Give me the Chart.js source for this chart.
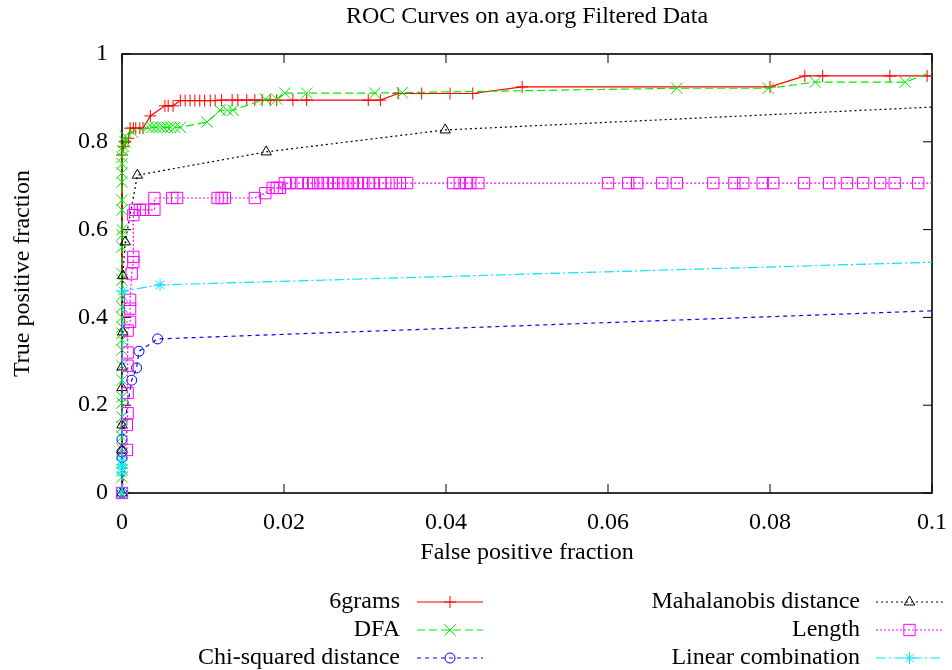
<!DOCTYPE html>
<html>
<head>
<meta charset="utf-8">
<title>ROC Curves on aya.org Filtered Data</title>
<script src="https://cdn.jsdelivr.net/npm/chart.js"></script>
<style>
  html, body { margin: 0; padding: 0; background: #fff; }
  #roc { display: block; }
</style>
</head>
<body>
<canvas id="roc" width="952" height="670"></canvas>
<script>
const chartTitle = 'ROC Curves on aya.org Filtered Data';

// tick values for the two axes
const xTicks = [0, 0.02, 0.04, 0.06, 0.08, 0.1];
const yTicks = [0, 0.2, 0.4, 0.6, 0.8, 1];

const seriesNames = ['6grams', 'DFA', 'Chi-squared distance', 'Mahalanobis distance', 'Length', 'Linear combination'];

// 6grams
const sixgramsFpr = [0, 0, 0.0002, 0.0004, 0.0008, 0.001, 0.0014, 0.0017, 0.0022, 0.0026, 0.0035, 0.0053, 0.0057, 0.0063,
  0.0072, 0.0078, 0.0084, 0.009, 0.0096, 0.0102, 0.0109, 0.0115, 0.0123, 0.0136, 0.0143, 0.0154, 0.0164, 0.0173, 0.0183,
  0.0191, 0.0211, 0.0228, 0.0304, 0.0319, 0.0341, 0.037, 0.0405, 0.0433, 0.0494, 0.08, 0.0843, 0.0865, 0.0948, 0.0994, 0.11];
const sixgramsTpr = [0, 0.77, 0.789, 0.8, 0.808, 0.831, 0.831, 0.831, 0.831, 0.831, 0.859, 0.882, 0.882, 0.882,
  0.894, 0.894, 0.894, 0.894, 0.894, 0.894, 0.894, 0.894, 0.895, 0.895, 0.895, 0.895, 0.895, 0.895, 0.895,
  0.895, 0.895, 0.895, 0.895, 0.895, 0.91, 0.91, 0.91, 0.91, 0.925, 0.925, 0.95, 0.95, 0.95, 0.95, 0.95];

// DFA
const dfaFpr = [0, 0, 0, 0, 0, 0, 0, 0, 0, 0, 0, 0, 0, 0, 0, 0, 0, 0, 0, 0, 0, 0, 0, 0, 0, 0, 0, 0, 0, 0,
  0.0001, 0.0002, 0.0004, 0.0004, 0.0013, 0.0032, 0.0037, 0.0042, 0.0047, 0.0051, 0.0056, 0.006, 0.0065, 0.0072,
  0.0105, 0.0121, 0.013, 0.0137, 0.0177, 0.0191, 0.0201, 0.0228, 0.0312, 0.0346, 0.0685, 0.0798, 0.0856, 0.0967, 0.1008];
const dfaTpr = [0, 0.036, 0.052, 0.068, 0.1, 0.128, 0.15, 0.173, 0.205, 0.219, 0.257, 0.29, 0.326, 0.349, 0.364, 0.378,
  0.4, 0.424, 0.45, 0.485, 0.5, 0.56, 0.588, 0.6, 0.645, 0.667, 0.708, 0.729, 0.75, 0.765,
  0.78, 0.79, 0.8, 0.813, 0.822, 0.833, 0.833, 0.833, 0.833, 0.833, 0.833, 0.833, 0.833, 0.833,
  0.845, 0.872, 0.872, 0.872, 0.897, 0.897, 0.911, 0.911, 0.911, 0.912, 0.922, 0.922, 0.936, 0.936, 0.965];

// Chi-squared distance
const chiFpr = [0, 0, 0, 0, 0.0012, 0.0018, 0.0021, 0.0044, 0.2];
const chiTpr = [0, 0.08, 0.094, 0.122, 0.257, 0.285, 0.323, 0.351, 0.482];

// Mahalanobis distance
const mahaFpr = [0, 0, 0, 0, 0, 0.0001, 0.0001, 0.0004, 0.0019, 0.0178, 0.0399, 0.2];
const mahaTpr = [0, 0.098, 0.155, 0.24, 0.287, 0.367, 0.495, 0.572, 0.724, 0.777, 0.827, 0.966];

// Length
const lengthFpr = [0, 0.0006, 0.0006, 0.0007, 0.0007, 0.0007, 0.0007, 0.0007, 0.001, 0.001, 0.001, 0.0012, 0.0014, 0.0014,
  0.0014, 0.0016, 0.0022, 0.0026, 0.004, 0.004, 0.0062, 0.0068, 0.0118, 0.0123, 0.0127, 0.0164, 0.0177, 0.0186, 0.0191,
  0.0195, 0.0201, 0.0207, 0.0216, 0.0223, 0.0231, 0.0236, 0.0242, 0.0248, 0.0254, 0.0261, 0.0267, 0.0273, 0.0279, 0.0285,
  0.0291, 0.0298, 0.0304, 0.031, 0.0319, 0.0325, 0.0333, 0.0343, 0.0352, 0.0409, 0.0417, 0.0425, 0.043, 0.044, 0.06,
  0.0625, 0.0636, 0.0667, 0.0685, 0.073, 0.0756, 0.0767, 0.0791, 0.0804, 0.0842, 0.0873, 0.0895, 0.0915, 0.0936, 0.0954,
  0.0983, 0.2];
const lengthTpr = [0, 0.098, 0.155, 0.182, 0.228, 0.29, 0.32, 0.37, 0.39, 0.42, 0.44, 0.5, 0.526, 0.538,
  0.633, 0.645, 0.645, 0.645, 0.645, 0.672, 0.672, 0.672, 0.672, 0.672, 0.672, 0.672, 0.683, 0.695, 0.695,
  0.695, 0.706, 0.706, 0.706, 0.706, 0.706, 0.706, 0.706, 0.706, 0.706, 0.706, 0.706, 0.706, 0.706, 0.706,
  0.706, 0.706, 0.706, 0.706, 0.706, 0.706, 0.706, 0.706, 0.706, 0.706, 0.706, 0.706, 0.706, 0.706, 0.706,
  0.706, 0.706, 0.706, 0.706, 0.706, 0.706, 0.706, 0.706, 0.706, 0.706, 0.706, 0.706, 0.706, 0.706, 0.706,
  0.706, 0.706];

// Linear combination
const linearFpr = [0, 0, 0, 0, 0, 0.0001, 0.0047, 0.2];
const linearTpr = [0, 0.046, 0.057, 0.064, 0.075, 0.46, 0.474, 0.58];

const toPoints = (xs, ys) => xs.map((v, i) => ({x: v, y: ys[i]}));

const styles = [
  {color: '#ff0000', dash: [], pointStyle: 'cross', radius: 6},
  {color: '#00ee00', dash: [8, 4], pointStyle: 'crossRot', radius: 8},
  {color: '#0000ff', dash: [4, 4], pointStyle: 'circle', radius: 5},
  {color: '#000000', dash: [2, 3], pointStyle: 'triangle', radius: 6},
  {color: '#ff00ff', dash: [2, 2], pointStyle: 'rect', radius: 8},
  {color: '#00e5ff', dash: [10, 3, 2, 3], pointStyle: 'star', radius: 6}
];

const seriesData = [
  toPoints(sixgramsFpr, sixgramsTpr),
  toPoints(dfaFpr, dfaTpr),
  toPoints(chiFpr, chiTpr),
  toPoints(mahaFpr, mahaTpr),
  toPoints(lengthFpr, lengthTpr),
  toPoints(linearFpr, linearTpr)
];

const datasets = seriesNames.map((name, i) => ({
  label: name,
  data: seriesData[i],
  showLine: true,
  borderColor: styles[i].color,
  backgroundColor: 'rgba(0,0,0,0)',
  borderWidth: 1.2,
  borderDash: styles[i].dash,
  pointStyle: styles[i].pointStyle,
  pointRadius: styles[i].radius,
  pointBorderWidth: 1,
  pointBorderColor: styles[i].color,
  pointBackgroundColor: 'rgba(0,0,0,0)',
  tension: 0,
  order: seriesNames.length - i,
  clip: {left: 12, top: 12, right: 0, bottom: 12}
}));

const fmt = v => String(+Number(v).toFixed(3));

// gnuplot style frame: border box with inward ticks on all four sides
const framePlugin = {
  id: 'frame',
  beforeDatasetsDraw(chart) {
    const {ctx, chartArea: a, scales: {x, y}} = chart;
    ctx.save();
    ctx.strokeStyle = '#000';
    ctx.setLineDash([]);
    ctx.lineWidth = 1;
    ctx.beginPath();
    x.ticks.forEach(t => {
      const px = x.getPixelForValue(t.value);
      ctx.moveTo(px, a.bottom); ctx.lineTo(px, a.bottom - 9);
      ctx.moveTo(px, a.top); ctx.lineTo(px, a.top + 9);
    });
    y.ticks.forEach(t => {
      const py = y.getPixelForValue(t.value);
      ctx.moveTo(a.left, py); ctx.lineTo(a.left + 9, py);
      ctx.moveTo(a.right, py); ctx.lineTo(a.right - 9, py);
    });
    ctx.stroke();
    ctx.lineWidth = 1.6;
    ctx.strokeRect(a.left, a.top, a.right - a.left, a.bottom - a.top);
    ctx.restore();
  }
};

// title centred over the plot, and a two-column legend under it
const legendPlugin = {
  id: 'gpLegend',
  afterDraw(chart) {
    const ctx = chart.ctx;
    const a = chart.chartArea;
    ctx.save();
    ctx.font = '24px "Liberation Serif", serif';
    ctx.fillStyle = '#000';
    ctx.textAlign = 'center';
    ctx.textBaseline = 'middle';
    ctx.fillText(chartTitle, (a.left + a.right) / 2, 17);

    const cols = [{textRight: 400, x0: 417, x1: 483}, {textRight: 860, x0: 876, x1: 943}];
    ctx.textAlign = 'right';
    chart.data.datasets.forEach((ds, i) => {
      const c = cols[i < 3 ? 0 : 1];
      const yy = 602 + (i % 3) * 28;
      ctx.fillStyle = '#000';
      ctx.fillText(ds.label, c.textRight, yy);
      ctx.strokeStyle = ds.borderColor;
      ctx.lineWidth = ds.borderWidth;
      ctx.setLineDash(ds.borderDash);
      ctx.beginPath();
      ctx.moveTo(c.x0, yy);
      ctx.lineTo(c.x1, yy);
      ctx.stroke();
      ctx.setLineDash([]);
      ctx.lineWidth = 1;
      ctx.fillStyle = 'rgba(0,0,0,0)';
      Chart.helpers.drawPoint(ctx, {
        pointStyle: ds.pointStyle, rotation: 0, radius: ds.pointRadius, borderWidth: 1
      }, (c.x0 + c.x1) / 2, yy);
    });
    ctx.restore();
  }
};

Chart.defaults.font.family = '"Liberation Serif", serif';
Chart.defaults.font.size = 24;
Chart.defaults.color = '#000';

new Chart(document.getElementById('roc'), {
  type: 'scatter',
  data: {datasets: datasets},
  options: {
    responsive: false,
    animation: false,
    layout: {padding: {left: 0, right: 20, top: 54, bottom: 97}},
    plugins: {
      legend: {display: false},
      tooltip: {enabled: false},
      title: {display: false}
    },
    scales: {
      x: {
        type: 'linear',
        min: 0,
        max: 0.1,
        afterFit: s => { s.height = 80; s.paddingLeft = 0; s.paddingRight = 0; },
        afterBuildTicks: s => { s.ticks = xTicks.map(v => ({value: v})); },
        ticks: {padding: 15, color: '#000', font: {size: 24}, callback: v => fmt(v)},
        grid: {display: false, drawTicks: false},
        border: {display: false},
        title: {display: true, text: 'False positive fraction', font: {size: 24}, color: '#000', padding: {top: 0, bottom: 6}}
      },
      y: {
        type: 'linear',
        min: 0,
        max: 1,
        afterFit: s => { s.width = 122; s.paddingTop = 0; s.paddingBottom = 0; },
        afterBuildTicks: s => { s.ticks = yTicks.map(v => ({value: v})); },
        ticks: {padding: 14, color: '#000', font: {size: 24}, callback: v => fmt(v)},
        grid: {display: false, drawTicks: false},
        border: {display: false},
        title: {display: true, text: 'True positive fraction', font: {size: 24}, color: '#000', padding: {top: 8, bottom: 0}}
      }
    }
  },
  plugins: [framePlugin, legendPlugin]
});
</script>
</body>
</html>
